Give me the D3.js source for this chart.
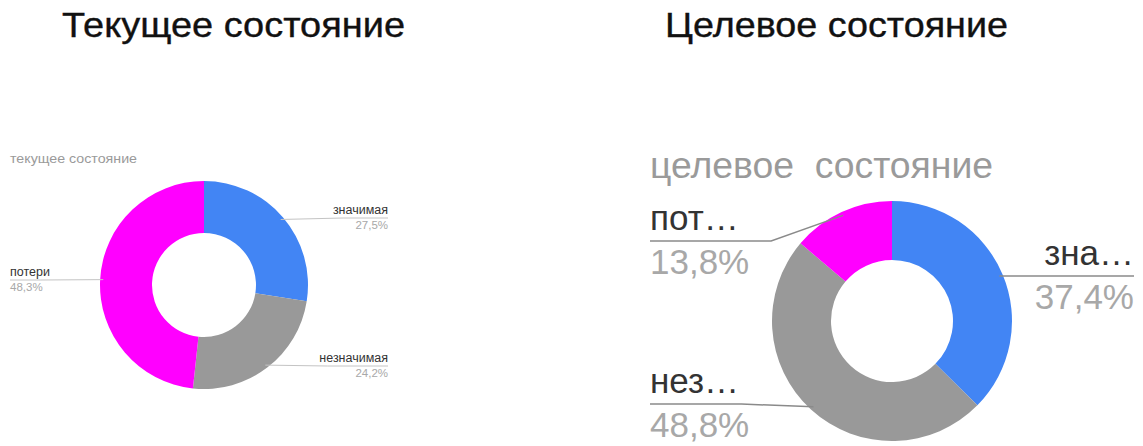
<!DOCTYPE html>
<html>
<head>
<meta charset="utf-8">
<script src="https://cdn.jsdelivr.net/npm/d3@7"></script>
<style>
  html, body { margin: 0; padding: 0; background: #fff; }
  svg { display: block; }
  text { font-family: "Liberation Sans", Arial, sans-serif; white-space: pre; }
</style>
</head>
<body>
<svg id="chart" width="1143" height="446"></svg>
<script>
// ---- data ----
const pageTitles = ["Текущее состояние", "Целевое состояние"];
const chartSubtitles = ["текущее состояние", "целевое  состояние"];
const categories = ["значимая", "незначимая", "потери"];
const currentValues = [27.5, 24.2, 48.3];
const targetValues = [37.4, 48.8, 13.8];
const currentLabels = ["значимая", "незначимая", "потери"];
const targetLabels = ["зна…", "нез…", "пот…"];
const sliceColors = ["#4285f4", "#999999", "#ff00ff"];

const svg = d3.select("#chart");
const fmt = v => d3.format(".1f")(v).replace(".", ",") + "%";
const color = d3.scaleOrdinal().domain(categories).range(sliceColors);

// page titles
[[62, pageTitles[0]], [665, pageTitles[1]]].forEach(([x, t]) => {
  svg.append("text").attr("x", x).attr("y", 37).attr("font-size", 35).attr("fill", "#111")
    .attr("stroke", "#111").attr("stroke-width", 0.35)
    .attr("textLength", 343).attr("lengthAdjust", "spacingAndGlyphs")
    .text(t);
});

function drawDonut(opt) {
  const g = svg.append("g");
  const pie = d3.pie().sort(null).value(d => d.value);
  const data = pie(categories.map((c, i) => ({ cat: c, value: opt.values[i], label: opt.labels[i] })));
  const arc = d3.arc().innerRadius(opt.inner).outerRadius(opt.outer);

  // subtitle
  g.append("text").attr("x", opt.subX).attr("y", opt.subY).attr("font-size", opt.subFont)
    .attr("textLength", opt.subLen).attr("lengthAdjust", "spacingAndGlyphs")
    .attr("fill", "#9a9a9a").text(opt.subtitle);

  const donut = g.append("g").attr("transform", `translate(${opt.cx},${opt.cy})`);
  donut.selectAll("path").data(data).join("path")
    .attr("d", arc).attr("fill", d => color(d.data.cat));

  const line = d3.line();
  data.forEach((d, i) => {
    const L = opt.layout[i];
    const mid = (d.startAngle + d.endAngle) / 2;
    const rr = opt.outer * 0.97;
    const sx = opt.cx + Math.sin(mid) * rr;
    const sy = opt.cy - Math.cos(mid) * rr;
    const dir = L.anchor === "end" ? 1 : -1;
    const lineY = L.y + opt.lineGap;
    const far = L.x;
    let elbowX = sx + dir * opt.outer * 0.6;
    if (dir === -1) elbowX = Math.max(elbowX, L.x + 1); else elbowX = Math.min(elbowX, L.x - 1);
    const pts = [[sx, sy], [elbowX, lineY], [far, lineY]];
    g.append("path").attr("d", line(pts)).attr("fill", "none")
      .attr("stroke", opt.lineColor).attr("stroke-width", opt.lineWidth);
    g.append("text").attr("x", L.x).attr("y", L.y).attr("text-anchor", L.anchor)
      .attr("font-size", opt.nameFont).attr("fill", "#333").text(d.data.label);
    g.append("text").attr("x", L.x).attr("y", L.y + opt.pctGap).attr("text-anchor", L.anchor)
      .attr("font-size", opt.font).attr("fill", "#a8a8a8").text(fmt(d.data.value));
  });
}

drawDonut({
  values: currentValues, labels: currentLabels, subtitle: chartSubtitles[0],
  cx: 204, cy: 285, outer: 104, inner: 52,
  font: 11.5, nameFont: 12.5, subFont: 12, subLen: 127, subX: 10, subY: 163,
  lineGap: 4, pctGap: 14.5,
  lineColor: "#c4c4c4", lineWidth: 1,
  layout: [
    { anchor: "end", x: 388, y: 214 },
    { anchor: "end", x: 388, y: 362 },
    { anchor: "start", x: 10, y: 276 }
  ]
});

drawDonut({
  values: targetValues, labels: targetLabels, subtitle: chartSubtitles[1],
  cx: 892, cy: 321, outer: 120, inner: 61,
  font: 35, nameFont: 35, subFont: 36, subLen: 343, subX: 650, subY: 178,
  lineGap: 11, pctGap: 44,
  lineColor: "#8a8a8a", lineWidth: 1.5,
  layout: [
    { anchor: "end", x: 1134, y: 265 },
    { anchor: "start", x: 650, y: 393 },
    { anchor: "start", x: 650, y: 230 }
  ]
});
</script>
</body>
</html>
